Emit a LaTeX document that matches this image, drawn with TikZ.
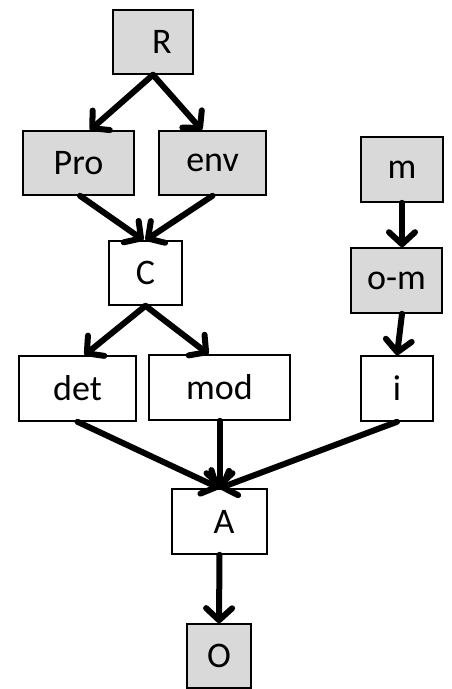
\documentclass[tikz,border=0pt]{standalone}
\usepackage{fontspec}
\setmainfont{Carlito}
\usetikzlibrary{arrows.meta}
\definecolor{boxgray}{RGB}{217, 217, 217}

\begin{document}
\begin{tikzpicture}[x=1pt, y=-1pt,
  box/.style={draw, line width=1.6pt, inner sep=0pt, font=\fontsize{36}{38}\selectfont},
  gbox/.style={box, fill=boxgray},
  arr/.style={-{Straight Barb[length=12pt, width=26pt, round]}, line width=6pt, line cap=round}
]
  \useasboundingbox (0, 0) rectangle (452, 689);

  % top branch
  \node[gbox, minimum width=80pt, minimum height=64pt] (R) at (153, 42) {\hspace{18pt}R};
  \node[gbox, minimum width=111pt, minimum height=64pt] (Pro) at (78.5, 163) {Pro};
  \node[gbox, minimum width=107pt, minimum height=64pt] (env) at (212.5, 163) {env};
  \node[box, fill=white, minimum width=73pt, minimum height=64pt] (C) at (145.5, 273) {C};
  \node[box, fill=white, minimum width=117pt, minimum height=65pt] (det) at (77.5, 388.5) {det};
  \node[box, fill=white, minimum width=141pt, minimum height=65pt] (mod) at (219.5, 387.5) {mod};

  % right branch
  \node[gbox, minimum width=82pt, minimum height=65pt] (m) at (402, 169.5) {m};
  \node[gbox, minimum width=91pt, minimum height=65pt] (om) at (396.5, 280.5) {o-m};
  \node[box, fill=white, minimum width=72pt, minimum height=65pt] (i) at (397, 388.5) {i};

  % bottom
  \node[box, fill=white, minimum width=95pt, minimum height=65pt] (A) at (219.5, 521.5) {\hspace{9pt}A};
  \node[gbox, minimum width=64pt, minimum height=64pt] (O) at (219, 656) {O};

  \draw[arr] (R.south) -- ([xshift=11.5pt]Pro.north);
  \draw[arr] (R.south) -- ([xshift=-10.5pt]env.north);
  \draw[arr] ([xshift=1.5pt]Pro.south) -- ([xshift=-2pt]C.north);
  \draw[arr] (env.south) -- (C.north);
  \draw[arr] (C.south) -- ([xshift=7pt]det.north);
  \draw[arr] (C.south) -- ([xshift=-11pt]mod.north);
  \draw[arr] (m.south) -- ([xshift=5.5pt]om.north);
  \draw[arr] ([xshift=5.5pt]om.south) -- (i.north);
  \draw[arr] (det.south) -- (A.north);
  \draw[arr] (mod.south) -- (A.north);
  \draw[arr] (i.south) -- (A.north);
  \draw[arr] (A.south) -- (O.north);
\end{tikzpicture}
\end{document}
